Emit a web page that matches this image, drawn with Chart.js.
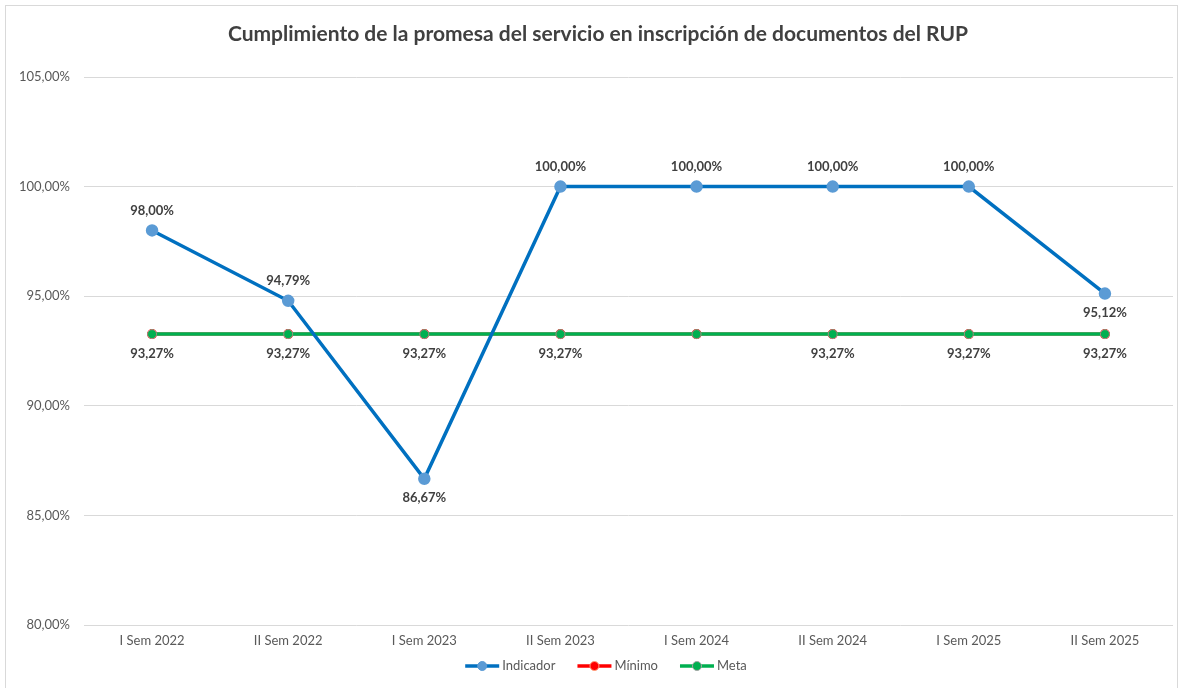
<!DOCTYPE html>
<html>
<head>
<meta charset="utf-8">
<script src="https://cdn.jsdelivr.net/npm/chart.js@4.4.1/dist/chart.umd.min.js"></script>
<style>
  html,body{margin:0;padding:0;background:#fff;}
  #wrap{position:absolute;left:0;top:0;width:1181px;height:688px;}
</style>
</head>
<body>
<div id="wrap"><canvas id="c" width="1181" height="688"></canvas></div>
<script>
const chartTitle = 'Cumplimiento de la promesa del servicio en inscripción de documentos del RUP';
const categories = ['I Sem 2022','II Sem 2022','I Sem 2023','II Sem 2023','I Sem 2024','II Sem 2024','I Sem 2025','II Sem 2025'];
const indicador = [98.00, 94.79, 86.67, 100.00, 100.00, 100.00, 100.00, 95.12];
const minimo = [93.27, 93.27, 93.27, 93.27, 93.27, 93.27, 93.27, 93.27];
const meta = [93.27, 93.27, 93.27, 93.27, 93.27, 93.27, 93.27, 93.27];
const indicadorLabelSide = ['above','above','below','above','above','above','above','below'];
const metaLabelShown = [true, true, true, true, false, true, true, true];
const yTicks = [80, 85, 90, 95, 100, 105];

const FONT = 'Lato, "Open Sans", sans-serif';
const fmt = v => v.toFixed(2).replace('.', ',') + '%';

const decorPlugin = {
  id: 'decor',
  beforeDraw(chart) {
    const ctx = chart.ctx;
    ctx.save();
    ctx.fillStyle = '#ffffff';
    ctx.fillRect(0, 0, chart.width, chart.height);
    ctx.strokeStyle = '#d9d9d9';
    ctx.lineWidth = 1;
    ctx.strokeRect(5.5, 5.5, chart.width - 9, chart.height + 10);
    ctx.restore();
  },
  afterDraw(chart) {
    const ctx = chart.ctx;
    ctx.save();
    // title
    ctx.fillStyle = '#404040';
    ctx.font = 'bold 21px ' + FONT;
    ctx.textAlign = 'center';
    ctx.textBaseline = 'middle';
    ctx.fillText(chartTitle, 598, 34);
    // legend
    const items = [
      {text: 'Indicador', line: '#0070C0', fill: '#5B9BD5', border: '#5B9BD5'},
      {text: 'Mínimo', line: '#FF0000', fill: '#FF0000', border: '#FFA07A'},
      {text: 'Meta', line: '#00B050', fill: '#00B050', border: '#A5A5A5'}
    ];
    ctx.font = '13px ' + FONT;
    ctx.textAlign = 'left';
    const gap = 22, lineW = 34;
    let total = 0;
    items.forEach((it, i) => { it.w = lineW + 3 + ctx.measureText(it.text).width; total += it.w + (i ? gap : 0); });
    let x = 606 - total / 2;
    const y = 666;
    items.forEach(it => {
      ctx.strokeStyle = it.line;
      ctx.lineWidth = 3.5;
      ctx.beginPath(); ctx.moveTo(x, y); ctx.lineTo(x + lineW, y); ctx.stroke();
      ctx.beginPath(); ctx.arc(x + lineW / 2, y, 4.5, 0, Math.PI * 2);
      ctx.fillStyle = it.fill; ctx.fill();
      ctx.lineWidth = 1; ctx.strokeStyle = it.border; ctx.stroke();
      ctx.fillStyle = '#595959';
      ctx.fillText(it.text, x + lineW + 3, y);
      x += it.w + gap;
    });
    ctx.restore();
  },
  afterDatasetsDraw(chart) {
    const ctx = chart.ctx;
    ctx.save();
    ctx.font = 'bold 13px ' + FONT;
    ctx.fillStyle = '#404040';
    ctx.textAlign = 'center';
    ctx.textBaseline = 'middle';
    const m0 = chart.getDatasetMeta(0);
    m0.data.forEach((pt, i) => {
      const dy = indicadorLabelSide[i] === 'above' ? -20 : 19;
      ctx.fillText(fmt(indicador[i]), pt.x, pt.y + dy);
    });
    const m2 = chart.getDatasetMeta(2);
    m2.data.forEach((pt, i) => {
      if (metaLabelShown[i]) ctx.fillText(fmt(meta[i]), pt.x, pt.y + 20);
    });
    ctx.restore();
  }
};

new Chart(document.getElementById('c'), {
  type: 'line',
  data: {
    labels: categories,
    datasets: [
      {label: 'Indicador', data: indicador, borderColor: '#0070C0', backgroundColor: '#5B9BD5',
       pointBackgroundColor: '#5B9BD5', pointBorderColor: '#5B9BD5', borderWidth: 3.5, pointRadius: 4.5, tension: 0, order: 1},
      {label: 'Mínimo', data: minimo, borderColor: '#FF0000', backgroundColor: '#FF0000',
       pointBackgroundColor: '#FF0000', pointBorderColor: '#FF0000', borderWidth: 3, pointRadius: 3.5, tension: 0, order: 3},
      {label: 'Meta', data: meta, borderColor: '#00B050', backgroundColor: '#00B050',
       pointBackgroundColor: '#00B050', pointBorderColor: '#A09080', pointBorderWidth: 1, borderWidth: 3.5, pointRadius: 4.5, tension: 0, order: 2}
    ]
  },
  options: {
    responsive: false,
    animation: false,
    devicePixelRatio: 1,
    layout: {padding: {top: 77, right: 8, bottom: 0, left: 0}},
    plugins: {legend: {display: false}, title: {display: false}, tooltip: {enabled: false}},
    scales: {
      x: {
        offset: true,
        grid: {display: false, drawTicks: false},
        border: {display: false},
        ticks: {color: '#595959', font: {family: FONT, size: 13}, padding: 8, maxRotation: 0, autoSkip: false},
        afterFit(s) { s.height = 63; }
      },
      y: {
        min: 80, max: 105,
        afterBuildTicks(s) { s.ticks = yTicks.map(v => ({value: v})); },
        grid: {color: '#d9d9d9', lineWidth: 1, drawTicks: false},
        border: {display: false},
        ticks: {color: '#595959', font: {family: FONT, size: 13}, padding: 14, callback: v => fmt(v)},
        afterFit(s) { s.width = 84; }
      }
    }
  },
  plugins: [decorPlugin]
});
</script>
</body>
</html>
